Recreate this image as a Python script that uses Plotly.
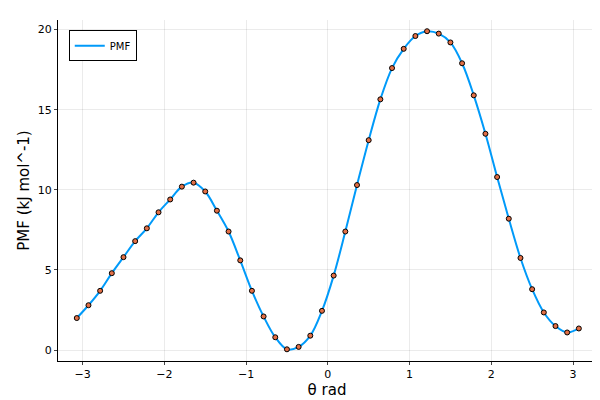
import numpy as np
import plotly.graph_objects as go

# 44 bin centres over [-pi, pi)
n_bins = 44
theta = -np.pi + (np.arange(n_bins) + 0.5) * 2 * np.pi / n_bins

pmf = [2.0, 2.8, 3.7, 4.8, 5.8, 6.8, 7.6, 8.6, 9.4, 10.2, 10.45, 9.9, 8.7, 7.4,
       5.6, 3.7, 2.1, 0.8, 0.05, 0.2, 0.9, 2.45, 4.65, 7.4, 10.3, 13.1, 15.65,
       17.6, 18.8, 19.6, 19.9, 19.75, 19.2, 17.9, 15.9, 13.5, 10.8, 8.2, 5.75,
       3.8, 2.35, 1.5, 1.1, 1.35]

fig = go.Figure()
fig.add_trace(go.Scatter(x=theta, y=pmf, mode="lines", name="PMF",
                         line=dict(color="#009af9", width=2, shape="spline")))
fig.add_trace(go.Scatter(x=theta, y=pmf, mode="markers", showlegend=False,
                         marker=dict(color="#e26f46", size=5,
                                     line=dict(color="black", width=1))))

axis = dict(showgrid=True, gridcolor="rgba(0,0,0,0.08)", zeroline=False,
            showline=True, linecolor="black", linewidth=1, ticks="outside",
            ticklen=3, tickfont=dict(size=11, color="black"), mirror=False)
fig.update_xaxes(range=[-3.30, 3.28], tickvals=[-3, -2, -1, 0, 1, 2, 3],
                 title=dict(text="θ rad", font=dict(size=15), standoff=4), **axis)
fig.update_yaxes(range=[-0.68, 20.6], tickvals=[0, 5, 10, 15, 20],
                 title=dict(text="PMF (kJ mol^-1)", font=dict(size=15), standoff=4), **axis)
fig.update_layout(
    width=600, height=400, plot_bgcolor="white", paper_bgcolor="white",
    margin=dict(l=50, r=12, t=12, b=45),
    font=dict(family="DejaVu Sans", color="black"),
    legend=dict(x=0.02, y=0.97, xanchor="left", yanchor="top",
                bordercolor="black", borderwidth=1, font=dict(size=10),
                tracegroupgap=0, itemwidth=30),
)
fig.write_html("out.html")
